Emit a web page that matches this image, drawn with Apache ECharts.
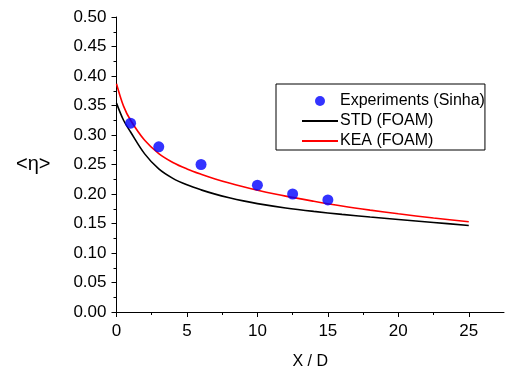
<!DOCTYPE html>
<html>
<head>
<meta charset="utf-8">
<script src="https://cdn.jsdelivr.net/npm/echarts@6/dist/echarts.min.js"></script>
<style>html,body{margin:0;padding:0;background:#fff;}#c{width:509px;height:369px;}</style>
</head>
<body>
<div id="c"></div>
<script>
// Experiments (Sinha)
const expX = [1, 3, 6, 10, 12.5, 15];
const expY = [0.32, 0.28, 0.25, 0.215, 0.20, 0.19];
// Simulation curves
const curveX = [0, 0.5, 1, 2, 3, 4, 5, 6, 7, 8, 9, 10, 12, 14, 16, 18, 20, 22.5, 25];
const stdY = [0.354, 0.325, 0.305, 0.268, 0.2425, 0.2265, 0.2155, 0.207, 0.1998, 0.1937, 0.1883, 0.1837, 0.1764, 0.1705, 0.1654, 0.1609, 0.1568, 0.1518, 0.1465];
const keaY = [0.387, 0.349, 0.325, 0.291, 0.2685, 0.2535, 0.2425, 0.2335, 0.2255, 0.2185, 0.2123, 0.2066, 0.1964, 0.1877, 0.1797, 0.1727, 0.1664, 0.1593, 0.153];
const xMajor = [0, 5, 10, 15, 20, 25];
const xMinor = [2.5, 7.5, 12.5, 17.5, 22.5];
const names = ['Experiments (Sinha)', 'STD (FOAM)', 'KEA (FOAM)'];

const zip = (a, b) => a.map((v, i) => [v, b[i]]);
const font = 'Liberation Sans, Arial, sans-serif';
const noDot = { color: 'rgba(0,0,0,0)', borderColor: 'rgba(0,0,0,0)', borderWidth: 0 };

const chart = echarts.init(document.getElementById('c'));
chart.setOption({
  animation: false,
  backgroundColor: '#fff',
  grid: { left: 116.5, right: 5, top: 17, bottom: 57, containLabel: false, outerBoundsMode: 'none' },
  legend: {
    orient: 'vertical', left: 276, top: 84,
    padding: [9, 0, 1, 25],
    borderColor: '#000', borderWidth: 1,
    itemWidth: 36, itemHeight: 10, itemGap: 4,
    textStyle: { fontFamily: font, fontSize: 16, color: '#000', padding: [0, 0, 0, -3] },
    data: [
      { name: names[0] },
      { name: names[1], itemStyle: noDot },
      { name: names[2], itemStyle: noDot }
    ]
  },
  xAxis: [{
    type: 'value', min: 0, max: 27.5, interval: 5,
    name: 'X / D', nameLocation: 'middle', nameGap: 42,
    nameTextStyle: { fontFamily: font, fontSize: 16, color: '#000' },
    axisLine: { show: true, onZero: false, lineStyle: { color: '#000', width: 1 } },
    axisTick: { show: true, length: 5, customValues: xMajor, lineStyle: { color: '#000' } },
    axisLabel: { customValues: xMajor, fontFamily: font, fontSize: 17, color: '#000', margin: 11 },
    splitLine: { show: false }
  }, {
    type: 'value', min: 0, max: 27.5, interval: 5, position: 'bottom',
    axisLine: { show: false },
    axisTick: { show: true, length: 3, customValues: xMinor, lineStyle: { color: '#000' } },
    axisLabel: { show: false },
    splitLine: { show: false }
  }],
  yAxis: {
    type: 'value', min: 0, max: 0.5, interval: 0.05,
    name: '<η>', nameLocation: 'middle', nameRotate: 0, nameGap: 66,
    nameTextStyle: { fontFamily: font, fontSize: 20, color: '#000' },
    axisLine: { show: true, onZero: false, lineStyle: { color: '#000', width: 1 } },
    axisTick: { show: true, length: 5, lineStyle: { color: '#000' } },
    minorTick: { show: true, splitNumber: 2, length: 3, lineStyle: { color: '#000' } },
    axisLabel: { fontFamily: font, fontSize: 17, color: '#000', margin: 10, formatter: v => v.toFixed(2) },
    splitLine: { show: false }
  },
  series: [{
    name: names[0], type: 'scatter', data: zip(expX, expY),
    symbol: 'circle', symbolSize: 11, itemStyle: { color: '#0000ff' }, z: 3
  }, {
    name: names[1], type: 'line', data: zip(curveX, stdY), symbol: 'none',
    smooth: 0.35,
    lineStyle: { color: '#000', width: 1.6 }, itemStyle: { color: '#000' }
  }, {
    name: names[2], type: 'line', data: zip(curveX, keaY), symbol: 'none',
    smooth: 0.35,
    lineStyle: { color: '#ff0000', width: 1.6 }, itemStyle: { color: '#ff0000' }
  }]
});
</script>
</body>
</html>
